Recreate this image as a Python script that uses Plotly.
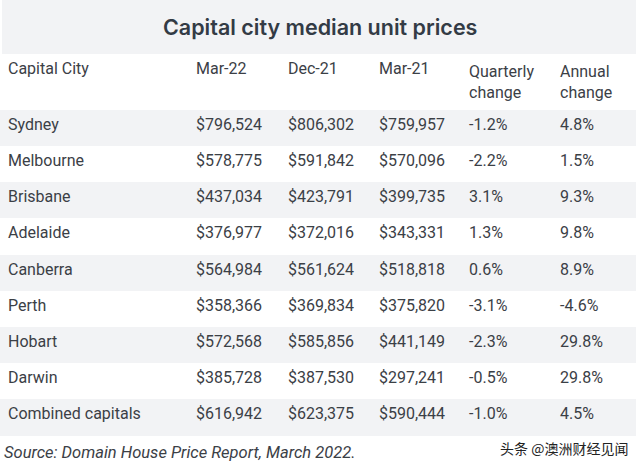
import plotly.graph_objects as go

title = "Capital city median unit prices"
headers = ["Capital City", "Mar-22", "Dec-21", "Mar-21", "Quarterly<br>change", "Annual<br>change"]
cities = ["Sydney", "Melbourne", "Brisbane", "Adelaide", "Canberra", "Perth", "Hobart", "Darwin", "Combined capitals"]
mar22 = ["$796,524", "$578,775", "$437,034", "$376,977", "$564,984", "$358,366", "$572,568", "$385,728", "$616,942"]
dec21 = ["$806,302", "$591,842", "$423,791", "$372,016", "$561,624", "$369,834", "$585,856", "$387,530", "$623,375"]
mar21 = ["$759,957", "$570,096", "$399,735", "$343,331", "$518,818", "$375,820", "$441,149", "$297,241", "$590,444"]
quarterly = ["-1.2%", "-2.2%", "3.1%", "1.3%", "0.6%", "-3.1%", "-2.3%", "-0.5%", "-1.0%"]
annual = ["4.8%", "1.5%", "9.3%", "9.8%", "8.9%", "-4.6%", "29.8%", "29.8%", "4.5%"]
source = "Source: Domain House Price Report, March 2022."
watermark = "头条 @澳洲财经见闻"

W, H = 640, 470
GRAY = "#f2f3f5"
WHITE = "#ffffff"
TXT = "#3b4046"
FONT = "Roboto, sans-serif"

row_colors = [GRAY if i % 2 == 0 else WHITE for i in range(len(cities))]
columns = [cities, mar22, dec21, mar21, quarterly, annual]

fig = go.Figure(go.Table(
    domain=dict(x=[0, 636 / W], y=[1 - 440 / H, 1 - 54 / H]),
    columnwidth=[188, 92, 91, 90, 91, 84],
    header=dict(
        values=headers,
        align="left",
        height=54,
        fill=dict(color=WHITE),
        line=dict(color=WHITE, width=0),
        font=dict(family=FONT, size=16, color=TXT),
    ),
    cells=dict(
        values=columns,
        align="left",
        height=36.2,
        fill=dict(color=[row_colors] * len(columns)),
        line=dict(color=[row_colors] * len(columns), width=0),
        font=dict(family=FONT, size=16, color=TXT),
    ),
))

fig.add_shape(type="rect", xref="paper", yref="paper", x0=2 / W, x1=636 / W,
              y0=1 - 54 / H, y1=1, fillcolor=GRAY, line=dict(width=0), layer="below")

fig.add_annotation(text=title, xref="paper", yref="paper", x=320 / W, y=1 - 27 / H,
                   xanchor="center", yanchor="middle", showarrow=False,
                   font=dict(family="Inter, sans-serif", size=21.5, color="#333b45", weight=600))
fig.add_annotation(text="<i>" + source + "</i>", xref="paper", yref="paper", x=2 / W, y=1 - 452 / H,
                   xanchor="left", yanchor="middle", showarrow=False,
                   font=dict(family=FONT, size=16.5, color=TXT))
fig.add_annotation(text=watermark, xref="paper", yref="paper", x=630 / W, y=1 - 448 / H,
                   xanchor="right", yanchor="middle", showarrow=False,
                   font=dict(family="Noto Sans CJK SC", size=14, color="#222222"))

fig.update_layout(width=W, height=H, margin=dict(l=0, r=0, t=0, b=0),
                  paper_bgcolor=WHITE, plot_bgcolor=WHITE)

fig.write_html("out.html", config={"displayModeBar": False},
               post_script="document.body.style.margin='0';")
